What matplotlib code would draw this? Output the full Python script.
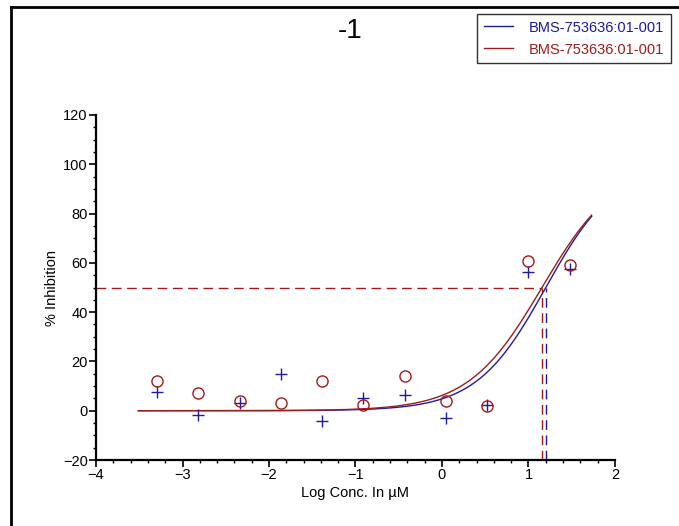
import numpy as np
import matplotlib
matplotlib.use("Agg")
import matplotlib.pyplot as plt
from matplotlib.lines import Line2D

plt.rcParams['font.family'] = ['Liberation Sans', 'DejaVu Sans']

# Data
log_conc = [-3.294, -2.817, -2.340, -1.863, -1.386, -0.908, -0.431, 0.046, 0.523, 1.000, 1.477]
blue_inhib = [7.6, -1.7, 3.1, 14.9, -4.2, 5.2, 6.4, -3.0, 2.3, 56.3, 57.5]
red_inhib = [12.1, 7.2, 3.9, 3.1, 12.1, 2.3, 14.1, 3.9, 1.9, 60.8, 59.2]
series_label = "BMS-753636:01-001"
# fitted 4PL params: bottom, top, ic50 (log), hill
blue_fit = dict(bottom=0.0, top=100.0, ic50=1.20, hill=1.08)
red_fit = dict(bottom=0.0, top=100.0, ic50=1.156, hill=1.02)
curve_range = (-3.51, 1.73)
xticks = [-4, -3, -2, -1, 0, 1, 2]
yticks = [-20, 0, 20, 40, 60, 80, 100, 120]

blue = '#1c1c9c'
red = '#9c1c1c'

fig = plt.figure(figsize=(6.79, 5.26), dpi=100)
ax = fig.add_axes([96/679, 1-460/526, (615-96)/679, (460-115)/526])

def fourpl(x, p):
    return p['bottom'] + (p['top'] - p['bottom']) / (1 + 10 ** ((p['ic50'] - x) * p['hill']))

xs = np.linspace(curve_range[0], curve_range[1], 400)
ax.plot(xs, fourpl(xs, blue_fit), color=blue, lw=1.0)
ax.plot(xs, fourpl(xs, red_fit), color=red, lw=1.0)

ax.plot(log_conc, blue_inhib, linestyle='none', marker='+', color=blue, ms=9, mew=1.0)
ax.plot(log_conc, red_inhib, linestyle='none', marker='o', mfc='none', mec=red, ms=8, mew=1.0)

# IC50 guide lines
ax.plot([-4, red_fit['ic50']], [50, 50], color=red, lw=1.0, dashes=(7, 4))
ax.plot([red_fit['ic50'], red_fit['ic50']], [-20, 50], color=red, lw=1.0, dashes=(7, 4))
ax.plot([blue_fit['ic50'], blue_fit['ic50']], [-20, 50], color=blue, lw=1.0, dashes=(7, 4))

ax.set_xlim(-4, 2)
ax.set_ylim(-20, 120)
ax.set_xticks(xticks)
ax.set_yticks(yticks)
ax.xaxis.set_minor_locator(matplotlib.ticker.MultipleLocator(0.2))
ax.yaxis.set_minor_locator(matplotlib.ticker.MultipleLocator(5))
for s in ['top', 'right']:
    ax.spines[s].set_visible(False)
for s in ['left', 'bottom']:
    ax.spines[s].set_linewidth(1.6)
ax.tick_params(which='major', direction='out', length=5, width=1.2, labelsize=10.5, pad=1)
ax.tick_params(which='minor', direction='out', length=2.5, width=1.0)
ax.set_xlabel('Log Conc. In µM', fontsize=10.5, labelpad=3)
ax.set_ylabel('% Inhibition', fontsize=10.5, labelpad=3)

fig.text(350/679, 1-31/526, '-1', fontsize=20, ha='center', va='center')

handles = [Line2D([], [], color=blue, lw=1.0), Line2D([], [], color=red, lw=1.0)]
leg = fig.legend(handles, [series_label, series_label], loc='upper left',
                 bbox_to_anchor=(477/679, 1-14/526), frameon=True, fancybox=False,
                 edgecolor='black', fontsize=10.5, handlelength=2.0, handletextpad=1.1,
                 borderpad=0.45, labelspacing=0.55, borderaxespad=0)
leg.get_frame().set_linewidth(1.0)
for t, c in zip(leg.get_texts(), [blue, red]):
    t.set_color(c)

# figure frame lines (top and left)
fig.add_artist(Line2D([11/679, 1], [1-7/526, 1-7/526], color='black', lw=2.0, transform=fig.transFigure))
fig.add_artist(Line2D([11/679, 11/679], [0, 1-7/526], color='black', lw=2.0, transform=fig.transFigure))

fig.savefig('out.png', dpi=100)
